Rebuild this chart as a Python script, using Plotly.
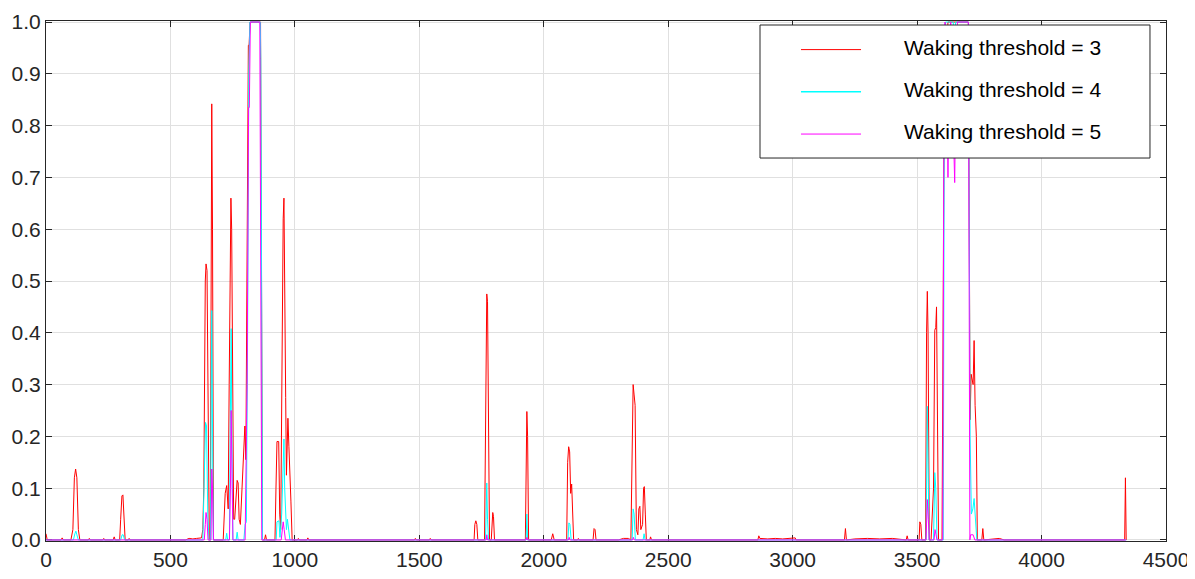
import plotly.graph_objects as go

# ---- data ----
red_x = [0, 5, 60, 65, 70, 100, 108, 114, 119, 124, 130, 136, 170, 174, 178, 228, 232, 236,
         270, 274, 278, 296, 300, 305, 309, 313, 318, 330, 334, 338,
         560, 575, 590, 605, 620, 625, 630, 634, 640, 643, 647, 651, 656, 660, 663, 666, 669, 673,
         712, 716, 720, 726, 729, 732, 736, 740, 743, 746, 750, 754, 758, 762, 768, 772, 776, 781,
         788, 795, 799, 803, 808, 813, 816, 820, 862, 866, 870, 878, 882, 886,
         920, 924, 928, 935, 939, 943, 947, 953, 956, 959, 963, 966, 969, 972, 976, 980, 984, 989,
         1010, 1014, 1018, 1048, 1052, 1056,
         1480, 1484, 1488, 1540, 1544, 1548,
         1720, 1723, 1727, 1731, 1735, 1762, 1767, 1771, 1774, 1778, 1782, 1789, 1792, 1795, 1798, 1802,
         1926, 1929, 1932, 1935, 1939, 2030, 2036, 2042, 2092, 2096, 2100, 2104, 2108, 2112, 2116, 2120,
         2135, 2139, 2143, 2198, 2202, 2206, 2210, 2300, 2320, 2340,
         2350, 2354, 2359, 2363, 2367, 2372, 2378, 2382, 2386, 2390, 2397, 2401, 2404, 2408, 2412,
         2426, 2429, 2433, 2860, 2864, 2868, 2900, 2930, 2960, 2990, 3010, 3014,
         3208, 3212, 3216, 3250, 3300, 3350, 3400, 3456, 3460, 3464,
         3508, 3511, 3515, 3519, 3534, 3538, 3541, 3544, 3549, 3556, 3562, 3566, 3571, 3575, 3578, 3582, 3586,
         3600, 3606, 3610, 3621, 3624, 3706, 3710, 3713, 3717, 3721, 3725, 3729, 3733, 3738, 3742,
         3760, 3764, 3768, 3800, 3830, 3850, 4334, 4337, 4339, 4340]
red_y = [0.012, 0, 0, 0.004, 0, 0, 0.02, 0.12, 0.137, 0.12, 0.02, 0, 0, 0.003, 0, 0, 0.003, 0,
         0, 0.006, 0, 0, 0.04, 0.085, 0.087, 0.04, 0, 0, 0.003, 0,
         0, 0.003, 0.002, 0.003, 0.004, 0.004, 0.02, 0.1, 0.5, 0.533, 0.52, 0.3, 0, 0, 0.6, 0.842, 0.6, 0,
         0, 0.06, 0.09, 0.105, 0.08, 0.06, 0.3, 0.6, 0.66, 0.6, 0.2, 0.04, 0.04, 0.08, 0.115, 0.11, 0.04, 0.03,
         0.1, 0.2, 0.22, 0.155, 0.6, 0.955, 0.955, 1, 1, 0.5, 0, 0, 0.01, 0,
         0, 0.1, 0.19, 0.19, 0.05, 0.02, 0.3, 0.62, 0.66, 0.4, 0.275, 0.125, 0.2, 0.235, 0.18, 0.1, 0.075, 0,
         0, 0.003, 0, 0, 0.004, 0,
         0, 0.003, 0, 0, 0.003, 0,
         0, 0.03, 0.037, 0.03, 0, 0, 0.3, 0.475, 0.46, 0.1, 0, 0, 0.045, 0.053, 0.045, 0,
         0, 0.2, 0.248, 0.2, 0, 0, 0.012, 0, 0, 0.15, 0.18, 0.17, 0.09, 0.108, 0.05, 0,
         0, 0.003, 0, 0, 0.022, 0.02, 0, 0, 0.003, 0.003,
         0, 0.1, 0.30, 0.28, 0.26, 0.02, 0.01, 0.06, 0.065, 0.02, 0.03, 0.1, 0.103, 0.05, 0,
         0, 0.006, 0, 0, 0.008, 0.003, 0.002, 0.003, 0.002, 0.003, 0.004, 0,
         0, 0.022, 0, 0.002, 0.003, 0.002, 0.003, 0, 0.008, 0,
         0, 0.035, 0.03, 0, 0, 0.4, 0.48, 0.4, 0, 0, 0.05, 0.1, 0.405, 0.41, 0.45, 0.1, 0,
         0, 0.5, 0.97, 0.97, 1, 1, 0.5, 0.232, 0.32, 0.31, 0.3, 0.385, 0.26, 0.2, 0,
         0, 0.022, 0, 0.002, 0.003, 0, 0, 0.12, 0, 0]

cyan_x = [0, 110, 116, 120, 124, 130, 300, 306, 310, 316,
          630, 636, 641, 645, 650, 655, 661, 664, 666, 668, 672,
          722, 726, 730, 737, 740, 744, 747, 751, 764, 768, 772,
          795, 800, 805, 810, 815, 819, 861, 863, 866, 870,
          925, 928, 936, 940, 947, 953, 956, 959, 962, 966, 970, 975, 980,
          1766, 1769, 1771, 1774, 1778, 1929, 1932, 1935, 2097, 2101, 2105, 2110,
          2355, 2359, 2363, 2368, 2399, 2403, 2407,
          3536, 3539, 3541, 3544, 3548, 3566, 3571, 3575, 3580,
          3605, 3610, 3614, 3645, 3650, 3655, 3706, 3709, 3713, 3718, 3724, 3729, 3733, 3740,
          4340]
cyan_y = [0, 0, 0.012, 0.017, 0.01, 0, 0, 0.01, 0.01, 0,
          0, 0.1, 0.227, 0.22, 0.05, 0, 0, 0.3, 0.443, 0.3, 0,
          0, 0.013, 0, 0, 0.2, 0.408, 0.2, 0, 0, 0.015, 0,
          0, 0.03, 0.035, 0.4, 0.9, 1, 1, 0.93, 0.5, 0,
          0, 0.035, 0.037, 0.005, 0.05, 0.15, 0.195, 0.1, 0.06, 0.02, 0.04, 0.02, 0,
          0, 0.08, 0.11, 0.04, 0, 0, 0.05, 0, 0, 0.033, 0.03, 0,
          0, 0.06, 0.05, 0, 0, 0.012, 0,
          0, 0.2, 0.258, 0.15, 0, 0, 0.13, 0.1, 0,
          0, 0.95, 1, 1, 0.97, 1, 1, 0.5, 0.2, 0.05, 0.06, 0.08, 0.04, 0,
          0]

mag_x = [0, 636, 640, 643, 647, 651, 663, 666, 669, 673,
         737, 741, 744, 747, 751, 800, 808, 814, 817, 821, 859, 863, 867,
         945, 950, 953, 957, 962, 1769, 1771, 1774, 1929, 1932, 1935, 2099, 2102, 2105,
         2357, 2360, 2364, 3536, 3539, 3541, 3545, 3549, 3568, 3572, 3576, 3580,
         3603, 3607, 3612, 3620, 3624, 3628, 3635, 3645, 3651, 3656, 3662, 3706, 3709, 3712,
         3715, 3725, 3732, 4340]
mag_y = [0, 0, 0.03, 0.053, 0.04, 0, 0, 0.137, 0.1, 0,
         0, 0.1, 0.25, 0.1, 0, 0, 0.3, 0.835, 0.835, 1, 1, 0.5, 0,
         0, 0.02, 0.035, 0.02, 0, 0, 0.01, 0, 0, 0.005, 0, 0, 0.005, 0,
         0, 0.005, 0, 0, 0.06, 0.078, 0.04, 0, 0, 0.02, 0.01, 0,
         0, 0.7, 1, 0.9, 0.7, 0.9, 1, 0.8, 0.69, 0.9, 1, 1, 0.5, 0,
         0.01, 0.01, 0, 0]

names = ["Waking threshold = 3", "Waking threshold = 4", "Waking threshold = 5"]
colors = ["#ff0000", "#00ffff", "#ff00ff"]
x_ticks = [0, 500, 1000, 1500, 2000, 2500, 3000, 3500, 4000, 4500]
y_ticks = [0.0, 0.1, 0.2, 0.3, 0.4, 0.5, 0.6, 0.7, 0.8, 0.9, 1.0]

FONT = "Liberation Sans, Arial, Helvetica, sans-serif"
AX = "#262626"

fig = go.Figure()
for xs, ys, nm, c in zip([red_x, cyan_x, mag_x], [red_y, cyan_y, mag_y], names, colors):
    fig.add_trace(go.Scatter(x=xs, y=ys, mode="lines", name=nm,
                             line=dict(color=c, width=1), showlegend=False,
                             hoverinfo="x+y+name"))

# legend drawn as a box with sample lines and labels (paper coordinates)
L, R, T, B = 0.6375, 0.9857, 0.9923, 0.7365
fig.add_shape(type="rect", xref="paper", yref="paper", x0=L, x1=R, y0=B, y1=T,
              line=dict(color=AX, width=1), fillcolor="white", layer="above")
for i, (nm, c) in enumerate(zip(names, colors)):
    yl = 0.945 - i * 0.0812
    fig.add_shape(type="line", xref="paper", yref="paper", x0=0.6741, x1=0.7277,
                  y0=yl, y1=yl, line=dict(color=c, width=1.5 if i == 1 else 1), layer="above")
    fig.add_annotation(xref="paper", yref="paper", x=0.7643, y=yl + 0.005, text=nm,
                       showarrow=False, xanchor="left", yanchor="middle",
                       font=dict(family=FONT, size=21, color="#000000"))

axis_common = dict(showline=True, linecolor=AX, linewidth=1, mirror="ticks",
                   ticks="inside", ticklen=6, tickcolor=AX, showgrid=True,
                   gridcolor="#e0e0e0", gridwidth=1, zeroline=False, automargin=False,
                   tickfont=dict(family=FONT, size=21, color=AX), layer="below traces")

fig.update_xaxes(range=[0, 4500], tickvals=x_ticks, ticktext=[str(v) for v in x_ticks], **axis_common)
fig.update_yaxes(range=[-0.002, 1.002], tickvals=y_ticks, ticktext=[f"{v:.1f}" for v in y_ticks],
                 **axis_common)

# the page body adds an 8px offset; the figure size compensates for it
fig.update_layout(width=1187, height=571, margin=dict(l=38, r=29, t=13, b=38),
                  paper_bgcolor="white", plot_bgcolor="white",
                  font=dict(family=FONT, color=AX), showlegend=False)

fig.write_html("out.html")
